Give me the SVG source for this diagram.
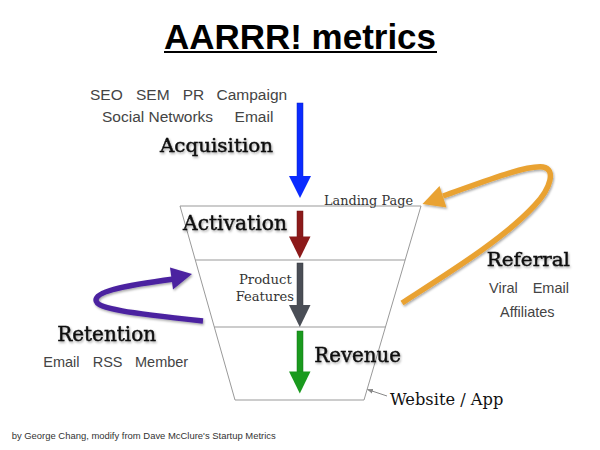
<svg xmlns="http://www.w3.org/2000/svg" width="600" height="450" viewBox="0 0 600 450">
<defs>
<style>
.tw{font-family:"DejaVu Serif","Liberation Serif",serif;fill:#111;}
.big{stroke:#111;stroke-width:0.45;}
.sans{font-family:"Liberation Sans","Noto Sans",sans-serif;fill:#444;}
.fun{fill:none;stroke:#999;stroke-width:1;}
.sh{filter:url(#shadow);}
</style>
<filter id="shadow" x="-20%" y="-20%" width="140%" height="160%">
<feDropShadow dx="1" dy="1.5" stdDeviation="0.9" flood-color="#000" flood-opacity="0.35"/>
</filter>
<marker id="small" viewBox="0 0 10 10" refX="9" refY="5" markerWidth="6" markerHeight="6" orient="auto">
<path d="M0,1 L10,5 L0,9 z" fill="#888"/>
</marker>
</defs>
<rect width="600" height="450" fill="#fff"/>

<g id="title">
<text x="300" y="49" text-anchor="middle" font-family="Liberation Sans, Arial, sans-serif" font-weight="bold" font-size="35" fill="#000" textLength="272" lengthAdjust="spacingAndGlyphs">AARRR! metrics</text>
<line x1="164" y1="52" x2="437" y2="52" stroke="#000" stroke-width="2"/>
</g>

<g id="funnel">
<polygon class="fun" points="180,206 421,206 364,400 235,400"/>
<line class="fun" x1="195.3" y1="260" x2="405.1" y2="260"/>
<line class="fun" x1="214.3" y1="327" x2="385.4" y2="327"/>
</g>

<g id="acquisition-sources">
<text class="sans" font-size="15.5" y="100"><tspan x="90">SEO</tspan> <tspan x="136">SEM</tspan> <tspan x="182.7">PR</tspan> <tspan x="216.5">Campaign</tspan></text>
<text class="sans" font-size="15.5" y="122"><tspan x="102">Social Networks</tspan> <tspan x="234.6">Email</tspan></text>
</g>
<g id="acquisition">
<text class="tw big sh" x="160" y="152" font-size="19" textLength="113" lengthAdjust="spacingAndGlyphs">Acquisition</text>
</g>
<g id="landing-page">
<text class="tw" x="324" y="205" font-size="12.5" textLength="89" lengthAdjust="spacingAndGlyphs" style="fill:#333">Landing Page</text>
</g>
<g id="activation">
<text class="tw big sh" x="183" y="230" font-size="20.5" textLength="104" lengthAdjust="spacingAndGlyphs">Activation</text>
</g>
<g id="product-features">
<text class="tw" x="239" y="284.3" font-size="13" textLength="52.7" lengthAdjust="spacingAndGlyphs" style="fill:#333">Product</text>
<text class="tw" x="235.7" y="300.7" font-size="13" textLength="58.3" lengthAdjust="spacingAndGlyphs" style="fill:#333">Features</text>
</g>
<g id="revenue">
<text class="tw big sh" x="314.3" y="361.7" font-size="19.5" textLength="86.7" lengthAdjust="spacingAndGlyphs">Revenue</text>
</g>
<g id="retention">
<text class="tw big sh" x="57.3" y="340.7" font-size="19.5" textLength="98.7" lengthAdjust="spacingAndGlyphs">Retention</text>
<text class="sans" font-size="14.5" y="366.7"><tspan x="43.3">Email</tspan> <tspan x="92.7">RSS</tspan> <tspan x="135">Member</tspan></text>
</g>
<g id="referral">
<text class="tw big sh" x="486.7" y="266" font-size="19" textLength="83.3" lengthAdjust="spacingAndGlyphs">Referral</text>
<text class="sans" font-size="14.5" y="292.7"><tspan x="489">Viral</tspan> <tspan x="532.7">Email</tspan></text>
<text class="sans" font-size="14.5" x="500" y="316.7">Affiliates</text>
</g>
<g id="website-app">
<text class="tw" x="390" y="405" font-size="16" textLength="113.3" lengthAdjust="spacingAndGlyphs">Website / App</text>
</g>

<g id="connectors">
<g id="arrow-acquisition">
<rect x="297" y="103" width="6" height="74" fill="#0b2bff" stroke="#0820c0" stroke-width="0.5"/>
<polygon points="289,176 311,176 300,198" fill="#0b2bff"/>
</g>
<g id="arrow-activation">
<rect x="297" y="211" width="6" height="26" fill="#8c1a1a" stroke="#6a1010" stroke-width="0.5"/>
<polygon points="289,236.5 310.5,236.5 299.8,258.5" fill="#8c1a1a"/>
</g>
<g id="arrow-features">
<rect x="297" y="263" width="6" height="42.5" fill="#4a4e56" stroke="#35383e" stroke-width="0.5"/>
<polygon points="289,305 310.5,305 299.8,327" fill="#4a4e56"/>
</g>
<g id="arrow-revenue">
<rect x="297" y="331" width="6" height="41" fill="#1a9a1e" stroke="#127015" stroke-width="0.5"/>
<polygon points="289,371.5 310.5,371.5 299.8,393.5" fill="#1a9a1e"/>
</g>
<g id="arrow-referral" class="sh">
<path d="M443,196 C480,183 525,165 543,167 C556,169 551,188 535,205 C505,238 450,272 402,303" fill="none" stroke="#e9a232" stroke-width="5.5" stroke-linecap="butt"/>
<polygon points="422.5,204 439.5,186 446.5,207.5" fill="#e9a232"/>
</g>
<g id="arrow-retention" class="sh">
<path d="M174,279 C120,286 96,292 96,300 C96,309 130,313 203,321" fill="none" stroke="#4b23a0" stroke-width="5.5"/>
<polygon points="192,274 170,267.5 173,289.5" fill="#4b23a0"/>
</g>
<g id="arrow-website">
<line x1="387" y1="396" x2="367.5" y2="389.5" stroke="#888" stroke-width="1" marker-end="url(#small)"/>
</g>
</g>

<g id="footer">
<text class="sans" x="11.7" y="439" font-size="9.5" textLength="264" lengthAdjust="spacingAndGlyphs" style="fill:#333">by George Chang, modify from Dave McClure's Startup Metrics</text>
</g>
</svg>
